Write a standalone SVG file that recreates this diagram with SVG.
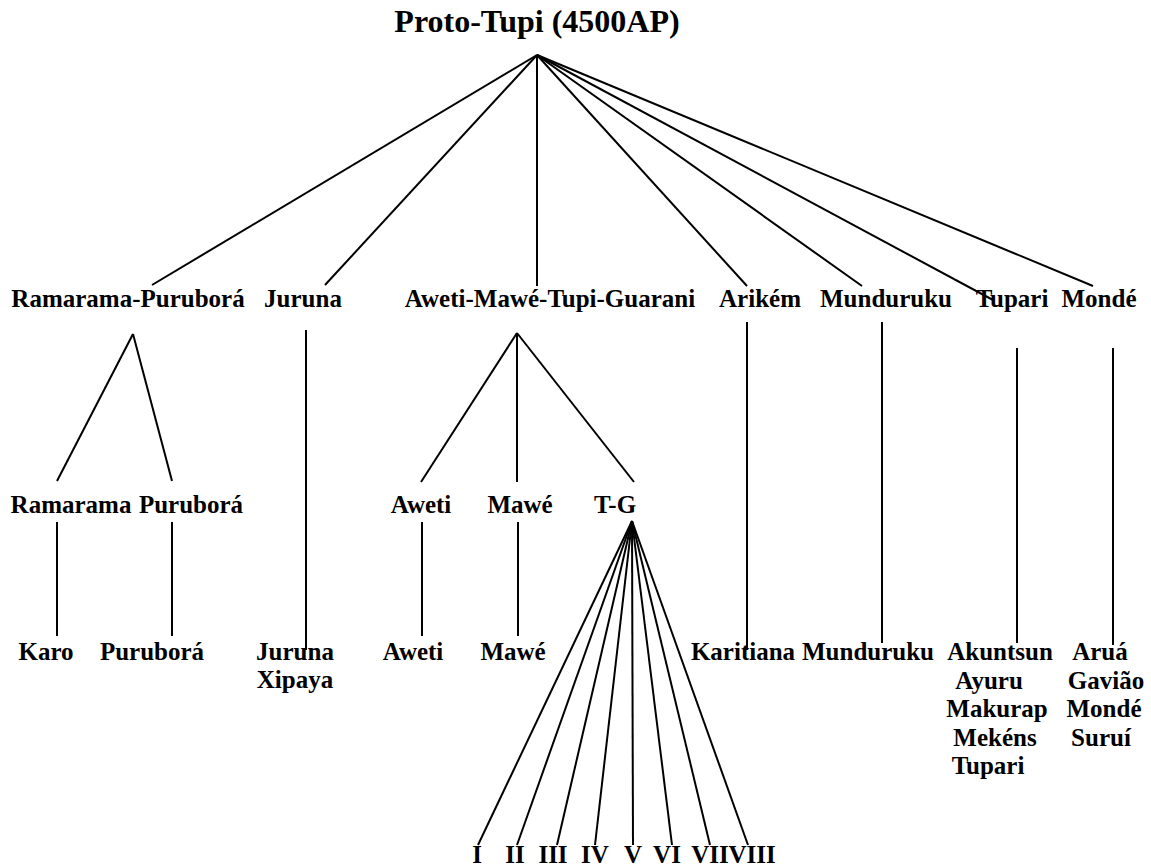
<svg xmlns="http://www.w3.org/2000/svg" width="1151" height="867" viewBox="0 0 1151 867">
<style>
.t{font-family:"Liberation Serif","Times New Roman",serif;font-weight:bold;font-size:25px;fill:#000;text-anchor:middle}
.title{font-size:32px}
.c line{stroke:#000;stroke-width:2;fill:none}
</style>
<rect width="1151" height="867" fill="#fff"/>
<g class="c" id="connectors">
<line x1="537" y1="55" x2="152" y2="285"/>
<line x1="537" y1="55" x2="325" y2="285"/>
<line x1="537" y1="55" x2="537" y2="286"/>
<line x1="537" y1="55" x2="747" y2="286"/>
<line x1="537" y1="55" x2="862" y2="286"/>
<line x1="537" y1="55" x2="993" y2="300"/>
<line x1="537" y1="55" x2="1093" y2="286"/>
<line x1="133" y1="334" x2="57" y2="481"/>
<line x1="133" y1="334" x2="172" y2="481"/>
<line x1="517" y1="333" x2="421" y2="482"/>
<line x1="517" y1="333" x2="517" y2="482"/>
<line x1="517" y1="333" x2="634" y2="482"/>
<line x1="57" y1="522" x2="57" y2="636"/>
<line x1="172" y1="522" x2="172" y2="636"/>
<line x1="422" y1="522" x2="422" y2="636"/>
<line x1="518" y1="522" x2="518" y2="636"/>
<line x1="306" y1="330" x2="306" y2="650"/>
<line x1="747" y1="322" x2="747" y2="650"/>
<line x1="882" y1="322" x2="882" y2="643"/>
<line x1="1017" y1="348" x2="1017" y2="643"/>
<line x1="1113" y1="348" x2="1113" y2="645"/>
<line x1="632" y1="521" x2="478" y2="845"/>
<line x1="632" y1="521" x2="517" y2="845"/>
<line x1="632" y1="521" x2="557" y2="845"/>
<line x1="632" y1="521" x2="595" y2="845"/>
<line x1="632" y1="521" x2="633" y2="845"/>
<line x1="632" y1="521" x2="672" y2="845"/>
<line x1="632" y1="521" x2="710" y2="845"/>
<line x1="632" y1="521" x2="748" y2="845"/>
</g>
<g id="proto-tupi"><text class="t title" x="537" y="32">Proto-Tupi (4500AP)</text></g>
<g id="ramarama-purubora"><text class="t" x="128" y="307">Ramarama-Puruborá</text></g>
<g id="juruna"><text class="t" x="303" y="307">Juruna</text></g>
<g id="aweti-mawe-tg"><text class="t" x="550" y="307">Aweti-Mawé-Tupi-Guarani</text></g>
<g id="arikem"><text class="t" x="760" y="307">Arikém</text></g>
<g id="munduruku"><text class="t" x="886" y="307">Munduruku</text></g>
<g id="tupari"><text class="t" x="1012" y="307">Tupari</text></g>
<g id="monde"><text class="t" x="1099" y="307">Mondé</text></g>
<g id="ramarama"><text class="t" x="71" y="513">Ramarama</text></g>
<g id="purubora"><text class="t" x="191" y="513">Puruborá</text></g>
<g id="aweti"><text class="t" x="421" y="513">Aweti</text></g>
<g id="mawe"><text class="t" x="520" y="513">Mawé</text></g>
<g id="tg"><text class="t" x="615" y="513">T-G</text></g>
<g id="karo"><text class="t" x="46" y="660">Karo</text></g>
<g id="purubora-l"><text class="t" x="152" y="660">Puruborá</text></g>
<g id="juruna-xipaya"><text class="t" x="295" y="660">Juruna</text><text class="t" x="295" y="688">Xipaya</text></g>
<g id="aweti-l"><text class="t" x="413" y="660">Aweti</text></g>
<g id="mawe-l"><text class="t" x="513" y="660">Mawé</text></g>
<g id="karitiana"><text class="t" x="743" y="660">Karitiana</text></g>
<g id="munduruku-l"><text class="t" x="868" y="660">Munduruku</text></g>
<g id="tupari-l"><text class="t" x="1000" y="660">Akuntsun</text><text class="t" x="989" y="688.5">Ayuru</text><text class="t" x="997" y="717">Makurap</text><text class="t" x="995" y="745.5">Mekéns</text><text class="t" x="988" y="774">Tupari</text></g>
<g id="monde-l"><text class="t" x="1100" y="660">Aruá</text><text class="t" x="1106" y="688.5">Gavião</text><text class="t" x="1104" y="717">Mondé</text><text class="t" x="1101" y="745.5">Suruí</text></g>
<g id="tg-branches"><text class="t" x="477" y="863">I</text><text class="t" x="515" y="863">II</text><text class="t" x="553" y="863">III</text><text class="t" x="595" y="863">IV</text><text class="t" x="633" y="863">V</text><text class="t" x="667" y="863">VI</text><text class="t" x="710" y="863">VII</text><text class="t" x="752" y="863">VIII</text></g>
</svg>
